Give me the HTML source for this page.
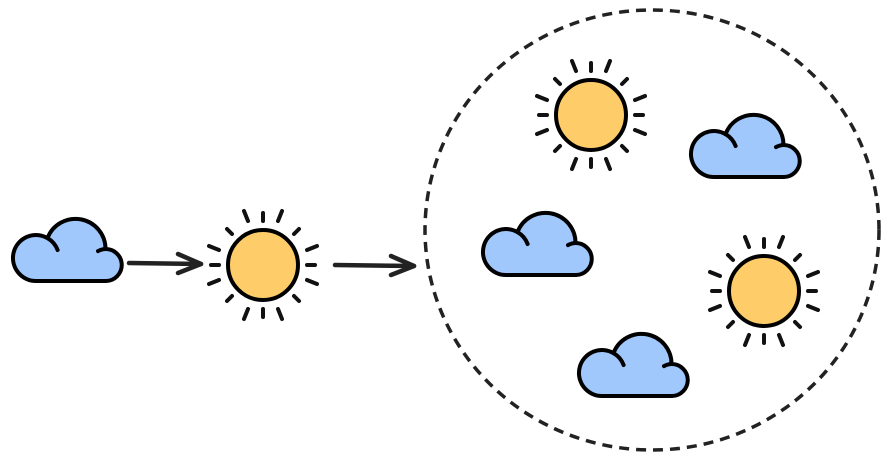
<!DOCTYPE html>
<html><head><style>body{margin:0;background:#fff}</style></head><body>
<svg width="887" height="461" viewBox="0 0 887 461" xmlns="http://www.w3.org/2000/svg">
<defs>
<g id="cloud">
<path d="M24,64 A23,23 0 1 1 35.5,21.1 A30,30 0 0 1 93.5,32 A16,16 0 0 1 94,64 Z" fill="#a0c8fd" stroke="#000" stroke-width="4" stroke-linejoin="round"/>
<path d="M35.5,21.1 A23,23 0 0 1 45.6,33" fill="none" stroke="#000" stroke-width="4" stroke-linecap="round"/>
<path d="M94,32 A16,16 0 0 0 86,34.1" fill="none" stroke="#000" stroke-width="4" stroke-linecap="round"/>
</g>
<g id="sun">
<g stroke="#111" stroke-width="4" stroke-linecap="round">
<line x1="0" y1="-44" x2="0" y2="-52"/><line x1="0" y1="44" x2="0" y2="52"/>
<line x1="-44" y1="0" x2="-52" y2="0"/><line x1="44" y1="0" x2="52" y2="0"/>
<g id="r4"><line x1="15" y1="-44" x2="19" y2="-54"/><line x1="44" y1="-15" x2="54" y2="-19"/><line x1="31" y1="-31" x2="36" y2="-36"/></g>
<use href="#r4" transform="rotate(90)"/><use href="#r4" transform="rotate(180)"/><use href="#r4" transform="rotate(270)"/>
</g>
<circle r="35" fill="#fecd6a" stroke="#000" stroke-width="4"/>
</g>
</defs>
<ellipse cx="652" cy="230" rx="227" ry="220" fill="none" stroke="#222" stroke-width="3.5" stroke-dasharray="10,7"/>
<use href="#cloud" x="12" y="217"/>
<use href="#cloud" x="690" y="113"/>
<use href="#cloud" x="482" y="211"/>
<use href="#cloud" x="578" y="332"/>
<use href="#sun" x="263" y="265"/>
<use href="#sun" x="591" y="115"/>
<use href="#sun" x="764" y="291"/>
<g stroke="#222" stroke-width="4.5" fill="none" stroke-linecap="round" stroke-linejoin="round">
<line x1="129" y1="263" x2="201" y2="264"/><polyline points="178,254 201,264 178,273"/>
<line x1="335" y1="265" x2="414" y2="266"/><polyline points="391,256 414,266 391,275"/>
</g>
</svg>
</body></html>
